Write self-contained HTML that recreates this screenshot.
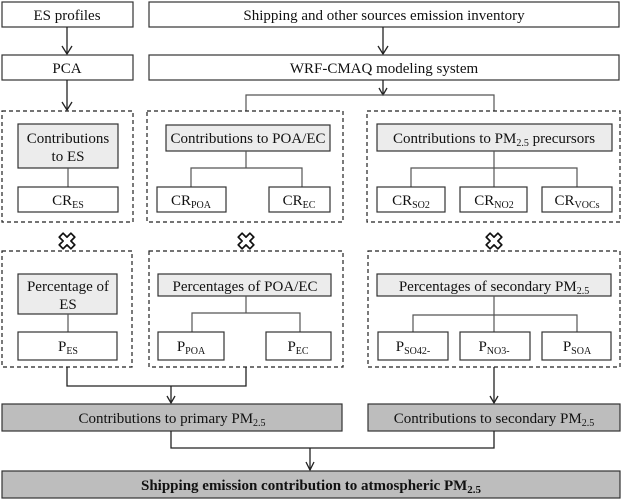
<!DOCTYPE html>
<html><head><meta charset="utf-8"><style>
html,body{margin:0;padding:0;background:#fff;}
svg{display:block;}
text{font-family:"Liberation Serif",serif;font-size:15px;fill:#111;}
.b{fill:#fff;stroke:#333;stroke-width:1.2;}
.g{fill:#ececec;stroke:#333;stroke-width:1.2;}
.d{fill:#bdbdbd;stroke:#333;stroke-width:1.2;}
.ds{fill:none;stroke:#222;stroke-width:1.2;stroke-dasharray:4,3;}
.l{fill:none;stroke:#555;stroke-width:1.2;}
.a{fill:none;stroke:#222;stroke-width:1.3;}
.x{fill:#fff;stroke:#111;stroke-width:1.3;stroke-linejoin:round;}
</style></head><body>
<svg width="622" height="501" viewBox="0 0 622 501" xmlns="http://www.w3.org/2000/svg">
<defs>
<g id="X"><polygon class="x" transform="scale(1.3)" points="-3,-6 0,-3 3,-6 6,-3 3,0 6,3 3,6 0,3 -3,6 -6,3 -3,0 -6,-3"/></g>
</defs>
<rect class="b" x="2" y="2" width="131" height="25"/>
<text x="67" y="20" text-anchor="middle">ES profiles</text>
<rect class="b" x="149" y="2" width="470" height="25"/>
<text x="384" y="20" text-anchor="middle">Shipping and other sources emission inventory</text>
<line class="a" x1="67" y1="27" x2="67" y2="54"/><polyline class="a" points="62,46 67,54 72,46"/>
<line class="a" x1="383" y1="27" x2="383" y2="54"/><polyline class="a" points="378,46 383,54 388,46"/>
<rect class="b" x="2" y="55" width="131" height="25"/>
<text x="67" y="73" text-anchor="middle">PCA</text>
<rect class="b" x="149" y="55" width="470" height="25"/>
<text x="384" y="73" text-anchor="middle">WRF-CMAQ modeling system</text>
<line class="a" x1="67" y1="80" x2="67" y2="110"/><polyline class="a" points="62,102 67,110 72,102"/>
<line class="a" x1="383" y1="80" x2="383" y2="95"/><polyline class="a" points="379,88 383,95 387,88"/>
<polyline class="l" points="246,111 246,95 494,95 494,111"/>

<rect class="ds" x="2" y="111" width="131" height="111"/>
<rect class="g" x="18" y="124" width="100" height="44"/>
<text x="68" y="143" text-anchor="middle">Contributions</text>
<text x="68" y="161" text-anchor="middle">to ES</text>
<line class="l" x1="68" y1="168" x2="68" y2="187"/>
<rect class="b" x="18" y="187" width="100" height="25"/>
<text x="68" y="205" text-anchor="middle">CR<tspan font-size="10" dy="3">ES</tspan></text>

<rect class="ds" x="147" y="111" width="196" height="111"/>
<rect class="g" x="166" y="125" width="164" height="26"/>
<text x="248" y="143" text-anchor="middle">Contributions to POA/EC</text>
<polyline class="l" points="246,151 246,168"/><polyline class="l" points="191,187 191,168 302,168 302,187"/>
<rect class="b" x="157" y="187" width="69" height="25"/>
<text x="191" y="205" text-anchor="middle">CR<tspan font-size="10" dy="3">POA</tspan></text>
<rect class="b" x="269" y="187" width="61" height="25"/>
<text x="299" y="205" text-anchor="middle">CR<tspan font-size="10" dy="3">EC</tspan></text>

<rect class="ds" x="367" y="111" width="253" height="111"/>
<rect class="g" x="377" y="124" width="235" height="27"/>
<text x="494" y="143" text-anchor="middle">Contributions to PM<tspan font-size="10" dy="3">2.5</tspan><tspan dy="-3"> precursors</tspan></text>
<polyline class="l" points="494,151 494,187"/><polyline class="l" points="411,187 411,168 577,168 577,187"/>
<rect class="b" x="377" y="187" width="68" height="25"/>
<text x="411" y="205" text-anchor="middle">CR<tspan font-size="10" dy="3">SO2</tspan></text>
<rect class="b" x="460" y="187" width="67" height="25"/>
<text x="494" y="205" text-anchor="middle">CR<tspan font-size="10" dy="3">NO2</tspan></text>
<rect class="b" x="542" y="187" width="70" height="25"/>
<text x="577" y="205" text-anchor="middle">CR<tspan font-size="10" dy="3">VOCs</tspan></text>

<use href="#X" x="67" y="241"/>
<use href="#X" x="246" y="241"/>
<use href="#X" x="494" y="241"/>

<rect class="ds" x="2" y="251" width="130" height="116"/>
<rect class="g" x="18" y="274" width="99" height="40"/>
<text x="68" y="291" text-anchor="middle">Percentage of</text>
<text x="68" y="309" text-anchor="middle">ES</text>
<line class="l" x1="68" y1="314" x2="68" y2="332"/>
<rect class="b" x="18" y="332" width="99" height="28"/>
<text x="68" y="351" text-anchor="middle">P<tspan font-size="10" dy="3">ES</tspan></text>

<rect class="ds" x="149" y="251" width="194" height="116"/>
<rect class="g" x="158" y="274" width="173" height="22"/>
<text x="245" y="291" text-anchor="middle">Percentages of POA/EC</text>
<polyline class="l" points="246,296 246,313"/><polyline class="l" points="192,332 192,313 300,313 300,332"/>
<rect class="b" x="158" y="332" width="66" height="28"/>
<text x="191" y="351" text-anchor="middle">P<tspan font-size="10" dy="3">POA</tspan></text>
<rect class="b" x="266" y="332" width="65" height="28"/>
<text x="298" y="351" text-anchor="middle">P<tspan font-size="10" dy="3">EC</tspan></text>

<rect class="ds" x="368" y="251" width="252" height="116"/>
<rect class="g" x="377" y="274" width="234" height="22"/>
<text x="494" y="291" text-anchor="middle">Percentages of secondary PM<tspan font-size="10" dy="3">2.5</tspan></text>
<polyline class="l" points="494,296 494,332"/><polyline class="l" points="413,332 413,315 577,315 577,332"/>
<rect class="b" x="378" y="332" width="70" height="28"/>
<text x="413" y="351" text-anchor="middle">P<tspan font-size="10" dy="3">SO42-</tspan></text>
<rect class="b" x="460" y="332" width="70" height="28"/>
<text x="494" y="351" text-anchor="middle">P<tspan font-size="10" dy="3">NO3-</tspan></text>
<rect class="b" x="542" y="332" width="69" height="28"/>
<text x="577" y="351" text-anchor="middle">P<tspan font-size="10" dy="3">SOA</tspan></text>

<polyline class="a" points="67,367 67,386 246,386 246,367"/>
<line class="a" x1="171" y1="386" x2="171" y2="403"/><polyline class="a" points="167,396 171,403 175,396"/>
<line class="a" x1="494" y1="367" x2="494" y2="403"/><polyline class="a" points="490,396 494,403 498,396"/>
<rect class="d" x="2" y="404" width="340" height="27"/>
<text x="172" y="423" text-anchor="middle">Contributions to primary PM<tspan font-size="10" dy="3">2.5</tspan></text>
<rect class="d" x="368" y="404" width="252" height="27"/>
<text x="494" y="423" text-anchor="middle">Contributions to secondary PM<tspan font-size="10" dy="3">2.5</tspan></text>
<polyline class="a" points="171,431 171,448 494,448 494,431"/>
<line class="a" x1="310" y1="448" x2="310" y2="470"/><polyline class="a" points="306,462 310,470 314,462"/>
<rect class="d" x="2" y="471" width="618" height="27"/>
<text x="311" y="490" text-anchor="middle" font-weight="bold" font-size="16">Shipping emission contribution to atmospheric PM<tspan font-size="11" dy="3">2.5</tspan></text>
</svg>
</body></html>
